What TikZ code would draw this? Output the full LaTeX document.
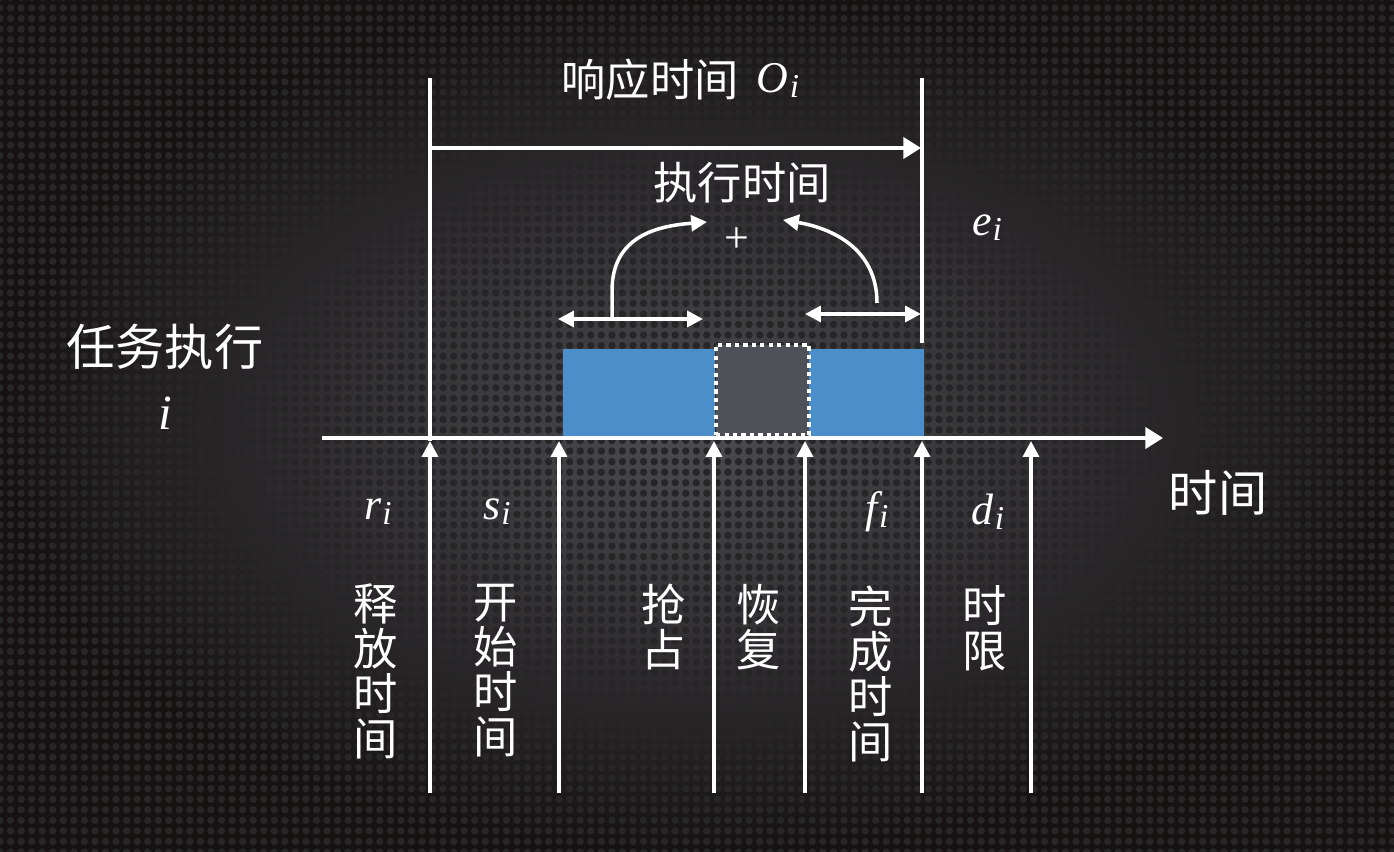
\documentclass[tikz,border=0pt]{standalone}
\usepackage{fontspec}
\newfontfamily\cjk{Noto Sans CJK SC}
\newfontfamily\tms{Liberation Serif}
\usepackage{xcolor}
\definecolor{runblue}{HTML}{4A8FCA}
\definecolor{preempt}{HTML}{4F5158}
\definecolor{bgmid}{HTML}{4C4D52}
\definecolor{bgedge}{HTML}{161212}
\usetikzlibrary{arrows.meta,positioning,patterns.meta}
\newcommand{\subsym}[1]{{\tms\itshape #1\kern0.3pt\raisebox{-0.25ex}{\fontsize{9.5}{9.5}\selectfont i}}}
\tikzset{
  wl/.style={draw=white, line width=1pt},
  ar/.style={wl, -{Triangle[width=6pt,length=5pt]}},
  dar/.style={wl, {Triangle[width=4.5pt,length=4.5pt]}-{Triangle[width=4.5pt,length=4.5pt]}},
  car/.style={wl, -{Triangle[width=4.5pt,length=4.5pt]}},
  upar/.style={wl, -{Triangle[width=4.5pt,length=4.5pt]}},
  big/.style={text=white, inner sep=0pt, font=\cjk\fontsize{14}{16}\selectfont},
  mid/.style={text=white, inner sep=0pt, font=\cjk\fontsize{12.6}{15}\selectfont},
  vtxt/.style={text=white, inner sep=0pt, align=center, font=\cjk\fontsize{12.6}{12.8}\selectfont},
  sym/.style={text=white, inner sep=0pt, font=\fontsize{12.5}{14}\selectfont},
  runbox/.style={fill=runblue, inner sep=0pt, anchor=south west, minimum height=0.87cm},
  prebox/.style={fill=preempt, draw=white, line width=1.2pt, dash pattern=on 1.2pt off 1.2pt,
                 inner sep=0pt, anchor=south west, minimum width=0.93cm, minimum height=0.9cm},
}

\begin{document}
\begin{tikzpicture}[x=0.01cm, y=-0.01cm]
  \useasboundingbox (0,0) rectangle (1394,852);
  \shade[inner color=bgmid, outer color=bgedge] (0,0) rectangle (1394,852);
  \fill[pattern={Dots[distance=3pt, radius=1.05pt]}, pattern color=black!85] (0,0) rectangle (1394,852);

  \node[runbox, minimum width=1.52cm] (run1) at (562,437) {};
  \node[runbox, minimum width=1.16cm] (run2) at (807,437) {};
  \node[prebox] (pre) at (714,437) {};

  \foreach \n/\x in {r/430,s/559,p/714,q/805,f/922,d/1031} {
    \coordinate (\n b) at (\x,793);
    \coordinate (\n a) at (\x,441);
    \draw[upar] (\n b) -- (\n a);
  }
  \coordinate (ax0) at (322,438);
  \coordinate (ax1) at (1163,438);
  \draw[ar] (ax0) -- (ax1);

  \coordinate (rtop) at (430,78);
  \coordinate (ftop) at (922,78);
  \coordinate (fend) at (922,343);
  \draw[wl] (ra) -- (rtop);
  \draw[wl] (ftop) -- (fend);
  \coordinate (o0) at (430,148);
  \coordinate (o1) at (921,148);
  \draw[ar] (o0) -- (o1);

  \coordinate (ll) at (558,319);
  \coordinate (lr) at (703,319);
  \coordinate (rl) at (805,314);
  \coordinate (rr) at (921,314);
  \draw[dar] (ll) -- (lr);
  \draw[dar] (rl) -- (rr);
  \coordinate (lc) at (612,319);
  \coordinate (lt) at (707,222);
  \coordinate (rc) at (877,303);
  \coordinate (rt) at (783,220);
  \draw[car] (lc) -- ++(0,-28) .. controls +(0,-55) and +(-50,4) .. (lt);
  \draw[car] (rc) .. controls +(0,-55) and +(48,8) .. (rt);

  \node[mid] (resp) at (650,80) {响应时间};
  \node[sym] (oi) at (778,80) {\subsym{O}};
  \node[mid] (exec) at (742,183) {执行时间};
  \node[sym] (plus) at (737,240) {\tms +};
  \node[sym] (ei) at (987,228) {\subsym{e}};
  \node[big] (task) at (165,347) {任务执行};
  \node[sym, font=\fontsize{14}{16}\selectfont] (ti) at (165,413) {\tms\itshape i};
  \node[big] (tlab) at (1218,493) {时间};

  \node[sym] (ri) at (378,512) {\subsym{r}};
  \node[sym] (si) at (497,512) {\subsym{s}};
  \node[sym] (fi) at (877,512) {\subsym{f}};
  \node[sym] (di) at (988,512) {\subsym{d}};

  \node[vtxt] (rel) at (376,671) {释\\放\\时\\间};
  \node[vtxt] (beg) at (496,671) {开\\始\\时\\间};
  \node[vtxt] (pmt) at (664,627) {抢\\占};
  \node[vtxt] (res) at (759,627) {恢\\复};
  \node[vtxt] (fin) at (871,674) {完\\成\\时\\间};
  \node[vtxt] (ddl) at (985,628) {时\\限};
\end{tikzpicture}
\end{document}
